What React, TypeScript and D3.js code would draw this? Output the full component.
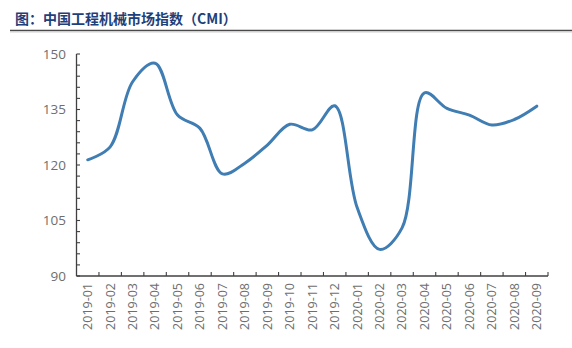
import React from "react";
import * as d3 from "d3";

const categories = [
  "2019-01", "2019-02", "2019-03", "2019-04", "2019-05", "2019-06", "2019-07",
  "2019-08", "2019-09", "2019-10", "2019-11", "2019-12", "2020-01", "2020-02",
  "2020-03", "2020-04", "2020-05", "2020-06", "2020-07", "2020-08", "2020-09",
];
const cmiValues = [
  121.4, 124.9, 142.5, 147.5, 133.5, 129.9, 117.6,
  120.5, 125.4, 131.0, 129.5, 136.0, 108.5, 97.2,
  103.0, 139.5, 135.3, 133.5, 130.8, 132.3, 135.9,
];
const yTickLabels = [90, 105, 120, 135, 150];
const yMinorStep = 3;
const title = "图：中国工程机械市场指数（CMI）";

const W = 572;
const H = 348;
const margin = { left: 76.5, right: 24, top: 54, bottom: 72 };

export default function App() {
  const x = d3
    .scaleBand<string>()
    .domain(categories)
    .range([margin.left, W - margin.right])
    .paddingInner(0)
    .paddingOuter(0);
  const y = d3.scaleLinear().domain([90, 150]).range([H - margin.bottom, margin.top]);
  const bw = x.bandwidth();

  const line = d3
    .line<number>()
    .x((_, i) => (x(categories[i]) as number) + bw / 2)
    .y((d) => y(d))
    .curve(d3.curveCatmullRom.alpha(0.5));

  const minorTicks = d3.range(90, 150 + 0.001, yMinorStep);
  const axisY = H - margin.bottom;
  const xBoundaries = categories.map((c) => (x(c) as number) + bw);

  const font = "'Open Sans', 'Liberation Sans', sans-serif";

  return (
    <svg
      width={W}
      height={H}
      style={{ position: "absolute", left: 0, top: 0, background: "#fff" }}
    >
      <text
        x={15}
        y={24}
        fontFamily="'Noto Sans CJK SC', sans-serif"
        fontWeight={700}
        fontSize={14}
        fill="#1f3f7a"
      >
        {title}
      </text>
      <line x1={10} x2={572} y1={30.5} y2={30.5} stroke="#4a4a4a" strokeWidth={1.6} />
      <line x1={10} x2={572} y1={32} y2={32} stroke="#cfcfcf" strokeWidth={1} />

      {/* y axis */}
      <line x1={margin.left} x2={margin.left} y1={margin.top} y2={axisY} stroke="#404040" strokeWidth={1.3} />
      {minorTicks.map((t) => (
        <line
          key={"ym" + t}
          x1={margin.left}
          x2={margin.left + 3.5}
          y1={y(t)}
          y2={y(t)}
          stroke="#404040"
          strokeWidth={1.1}
        />
      ))}
      {yTickLabels.map((t) => (
        <text
          key={"yl" + t}
          x={66}
          y={y(t)}
          dy="0.35em"
          textAnchor="end"
          fontFamily={font}
          fontSize={13.5}
          fill="#6e6e6e"
        >
          {t}
        </text>
      ))}

      {/* x axis */}
      <line x1={margin.left} x2={W - margin.right} y1={axisY} y2={axisY} stroke="#404040" strokeWidth={1.3} />
      {xBoundaries.map((bx, i) => (
        <line
          key={"xt" + i}
          x1={bx}
          x2={bx}
          y1={axisY}
          y2={axisY - 4}
          stroke="#404040"
          strokeWidth={1.1}
        />
      ))}
      {categories.map((c) => {
        const cx = (x(c) as number) + bw / 2;
        return (
          <text
            key={"xl" + c}
            transform={`translate(${cx},${axisY + 7}) rotate(-90)`}
            dy="0.35em"
            textAnchor="end"
            fontFamily={font}
            fontSize={12.5}
            fill="#6e6e6e"
          >
            {c}
          </text>
        );
      })}

      <path
        d={line(cmiValues) || ""}
        fill="none"
        stroke="#3f7db3"
        strokeWidth={3}
        strokeLinejoin="round"
        strokeLinecap="round"
      />
    </svg>
  );
}
